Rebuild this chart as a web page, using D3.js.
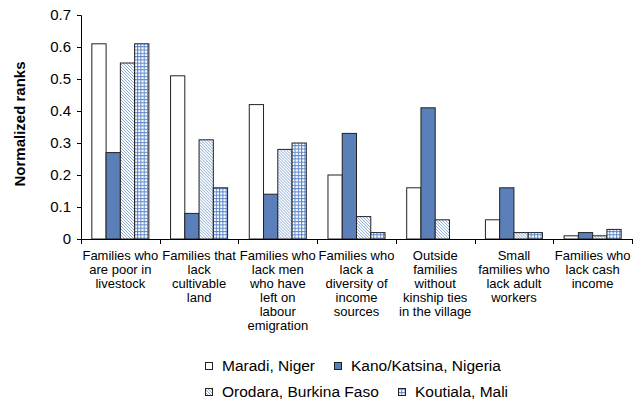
<!DOCTYPE html>
<html>
<head>
<meta charset="utf-8">
<script src="https://cdn.jsdelivr.net/npm/d3@7/dist/d3.min.js"></script>
<style>
body{margin:0;background:#fff;}
text{font-family:"Liberation Sans",Arial,sans-serif;fill:#000;}
</style>
</head>
<body>
<svg id="chart" width="643" height="406"></svg>
<script>
const categories = [
  ["Families who","are poor in","livestock"],
  ["Families that","lack","cultivable","land"],
  ["Families who","lack men","who have","left on","labour","emigration"],
  ["Families who","lack a","diversity of","income","sources"],
  ["Outside","families","without","kinship ties","in the village"],
  ["Small","families who","lack adult","workers"],
  ["Families who","lack cash","income"]
];
const seriesNames = ["Maradi, Niger","Kano/Katsina, Nigeria","Orodara, Burkina Faso","Koutiala, Mali"];
const maradi   = [0.61,0.51,0.42,0.20,0.16,0.06,0.01];
const kano     = [0.27,0.08,0.14,0.33,0.41,0.16,0.02];
const orodara  = [0.55,0.31,0.28,0.07,0.06,0.02,0.01];
const koutiala = [0.61,0.16,0.30,0.02,0.00,0.02,0.03];
const yTicks = [0,0.1,0.2,0.3,0.4,0.5,0.6,0.7];
const yLabel = "Normalized ranks";

const seriesValues = [maradi,kano,orodara,koutiala];
const fills = ["#ffffff","#5b7fb8","url(#hatch)","url(#grid)"];

const svg = d3.select("#chart");
const defs = svg.append("defs");
const hatch = defs.append("pattern").attr("id","hatch").attr("patternUnits","userSpaceOnUse")
  .attr("width",3).attr("height",3);
hatch.append("rect").attr("width",3).attr("height",3).attr("fill","#fff");
hatch.append("path").attr("d","M-1,-1L4,4M-1,2L1,4M2,-1L4,1").attr("stroke","#7c9fd0").attr("stroke-width",0.9);
const grid = defs.append("pattern").attr("id","grid").attr("patternUnits","userSpaceOnUse")
  .attr("width",3.3).attr("height",3.3);
grid.append("rect").attr("width",3.3).attr("height",3.3).attr("fill","#fff");
grid.append("path").attr("d","M0.5,0V3.3M0,0.5H3.3").attr("stroke","#5a86cc").attr("stroke-width",1);

const mLeft = 81, mRight = 632, mTop = 15, mBottom = 239;
const y = d3.scaleLinear().domain([0,0.7]).range([mBottom,mTop]);
const x0 = d3.scaleBand().domain(d3.range(categories.length)).range([mLeft,mRight]).padding(0);
const x1 = d3.scaleBand().domain(d3.range(seriesNames.length)).range([0,x0.bandwidth()])
  .paddingInner(0).paddingOuter(0.76);

// bars
const groups = svg.append("g").selectAll("g").data(categories).join("g")
  .attr("transform",(d,i)=>`translate(${x0(i)},0)`);
groups.selectAll("rect").data((d,i)=>seriesValues.map((s,j)=>({j,v:s[i]})).filter(e=>e.v>0))
  .join("rect")
  .attr("x",e=>x1(e.j)).attr("width",x1.bandwidth())
  .attr("y",e=>y(e.v)).attr("height",e=>y(0)-y(e.v))
  .attr("fill",e=>fills[e.j]).attr("stroke","#222").attr("stroke-width",1);

// y axis
const yAxis = svg.append("g").attr("transform",`translate(${mLeft},0)`)
  .call(d3.axisLeft(y).tickValues(yTicks).tickSize(4).tickPadding(6).tickFormat(d=>d===0?"0":d.toFixed(1)));
yAxis.select(".domain").attr("stroke","#000");
yAxis.selectAll(".tick line").attr("stroke","#000");
yAxis.selectAll("text").attr("font-size",15).attr("font-family","Liberation Sans, Arial, sans-serif");

// x axis
const xg = svg.append("g");
xg.append("line").attr("x1",mLeft).attr("x2",mRight).attr("y1",mBottom+0.5).attr("y2",mBottom+0.5).attr("stroke","#000");
const bounds = categories.map((d,i)=>x0(i)).concat([mRight]);
xg.selectAll(".xt").data(bounds).join("line").attr("class","xt")
  .attr("x1",d=>Math.round(d)+0.5).attr("x2",d=>Math.round(d)+0.5)
  .attr("y1",mBottom).attr("y2",mBottom+5).attr("stroke","#000");
xg.selectAll(".xl").data(categories).join("text").attr("class","xl")
  .attr("text-anchor","middle").attr("font-size",13)
  .attr("transform",(d,i)=>`translate(${x0(i)+x0.bandwidth()/2},260)`)
  .selectAll("tspan").data(d=>d).join("tspan")
  .attr("x",0).attr("dy",(d,k)=>k===0?0:14).text(d=>d);

// y label
svg.append("text").attr("transform","translate(25,124) rotate(-90)")
  .attr("text-anchor","middle").attr("font-size",15).attr("font-weight","bold").text(yLabel);

// legend
const legendPos = [[205,366],[334,366],[205,392],[398,392]];
const lg = svg.append("g").selectAll("g").data(seriesNames).join("g")
  .attr("transform",(d,i)=>`translate(${legendPos[i][0]},${legendPos[i][1]})`);
lg.append("rect").attr("x",0.5).attr("y",-3.5).attr("width",7).attr("height",7)
  .attr("fill",(d,i)=>fills[i]).attr("stroke","#222");
lg.append("text").attr("x",17).attr("y",0).attr("dy","0.35em")
  .attr("font-size",15.5).text(d=>d);
</script>
</body>
</html>
